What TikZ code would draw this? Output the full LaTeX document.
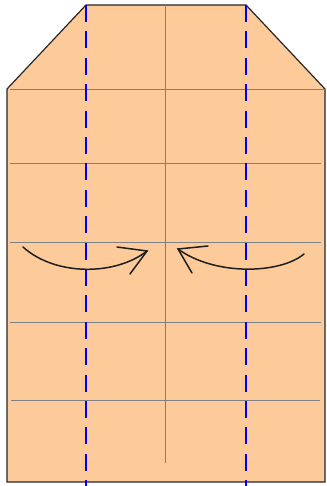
\documentclass[tikz,border=0pt]{standalone}
\definecolor{paper}{RGB}{253,203,153}
\definecolor{gridgray}{RGB}{125,128,135}
\definecolor{foldblue}{RGB}{0,0,255}
\definecolor{arrowc}{RGB}{30,30,30}
\tikzset{
  outline/.style={draw=black!85,line width=1.2pt,fill=paper,line join=miter},
  gridline/.style={draw=gridgray,line width=1.1pt},
  valley/.style={draw=foldblue,line width=2.4pt,dash pattern=on 17pt off 9.4pt},
  foldarrow/.style={draw=arrowc,line width=1.5pt,line cap=round}
}
\begin{document}
\begin{tikzpicture}[x=1pt,y=-1pt]
\useasboundingbox (0,0) rectangle (326,486);
% paper outline
\coordinate (tl) at (86,5);
\coordinate (tr) at (246,5);
\coordinate (rs) at (325,89);
\coordinate (br) at (325,482);
\coordinate (bl) at (7,482);
\coordinate (ls) at (7,89);
\draw[outline] (tl) -- (tr) -- (rs) -- (br) -- (bl) -- (ls) -- cycle;
% grid lines
\coordinate (h1a) at (10,89.5);  \coordinate (h1b) at (325,89.5);
\coordinate (h2a) at (10,163.5); \coordinate (h2b) at (321,163.5);
\coordinate (h3a) at (10,242.5); \coordinate (h3b) at (321,242.5);
\coordinate (h4a) at (10,322.5); \coordinate (h4b) at (321,322.5);
\coordinate (h5a) at (11,400.5); \coordinate (h5b) at (320,400.5);
\coordinate (va) at (165.5,5);   \coordinate (vb) at (165.5,463);
\draw[gridline] (h1a) -- (h1b);
\draw[gridline] (h2a) -- (h2b);
\draw[gridline] (h3a) -- (h3b);
\draw[gridline] (h4a) -- (h4b);
\draw[gridline] (h5a) -- (h5b);
\draw[gridline] (va) -- (vb);
% valley folds
\coordinate (f1a) at (86,5);  \coordinate (f1b) at (86,486);
\coordinate (f2a) at (246,5); \coordinate (f2b) at (246,486);
\draw[valley] (f1a) -- (f1b);
\draw[valley] (f2a) -- (f2b);
% arrows
\coordinate (a1s) at (23,247);
\coordinate (a1t) at (147,251);
\coordinate (a1u) at (117,247);
\coordinate (a1v) at (130,274);
\draw[foldarrow] (a1s) .. controls (55,276) and (115,276) .. (a1t);
\draw[foldarrow] (a1u) -- (a1t) -- (a1v);
\coordinate (a2s) at (304,254);
\coordinate (a2t) at (178,249);
\coordinate (a2u) at (208,246);
\coordinate (a2v) at (192,273);
\draw[foldarrow] (a2s) .. controls (280,274) and (215,276) .. (a2t);
\draw[foldarrow] (a2u) -- (a2t) -- (a2v);
\end{tikzpicture}
\end{document}
